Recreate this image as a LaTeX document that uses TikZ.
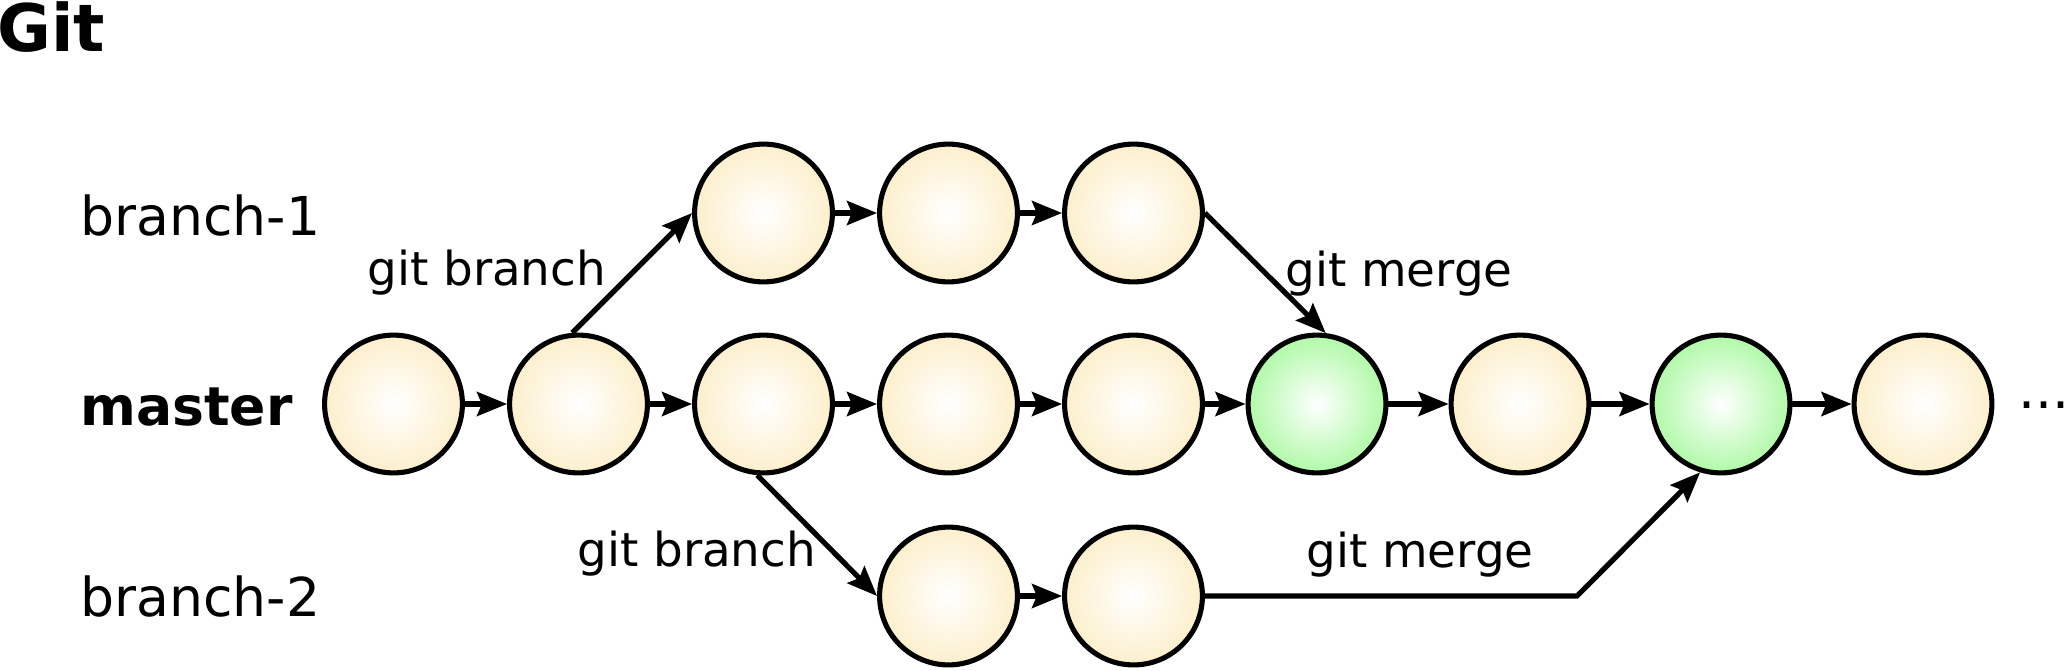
\documentclass[tikz,border=0pt]{standalone}
\usepackage{fontspec}
\setmainfont{DejaVu Sans}
\usetikzlibrary{arrows.meta}
\definecolor{ycol}{RGB}{252,236,194}
\definecolor{gcol}{RGB}{160,248,150}
\pgfdeclareradialshading{yballshade}{\pgfpoint{0bp}{0bp}}{color(0bp)=(white); color(30bp)=(ycol); color(75bp)=(ycol)}
\pgfdeclareradialshading{gballshade}{\pgfpoint{0bp}{0bp}}{color(0bp)=(white); color(30bp)=(gcol); color(75bp)=(gcol)}
\tikzset{
  commit/.style={circle, draw=black, line width=2.55pt, minimum size=68.9pt, inner sep=0pt, shade, shading=yballshade},
  merged/.style={commit, shading=gballshade},
  conn/.style={line width=2.6pt, -{Stealth[length=15pt,width=12pt,inset=2.4pt]}},
  rowlabel/.style={anchor=base west, inner sep=0pt, font=\fontsize{26.8pt}{30pt}\selectfont},
  cmdlabel/.style={anchor=base west, inner sep=0pt, font=\fontsize{23.4pt}{27pt}\selectfont},
  titlelabel/.style={anchor=base west, inner sep=0pt, font=\fontsize{32.8pt}{36pt}\selectfont\bfseries},
}
\begin{document}
\begin{tikzpicture}[x=0.5pt, y=-0.5pt]
\useasboundingbox (0,0) rectangle (2071,670);
% title and row labels
\node[titlelabel] (title) at (-3,51) {Git};
\node[rowlabel] (lb1) at (80,235) {branch-1};
\node[rowlabel, font=\fontsize{26.8pt}{30pt}\selectfont\bfseries] (lm) at (80,425) {master};
\node[rowlabel] (lb2) at (80,616) {branch-2};
% master commits
\node[commit] (m1) at (393.5,404) {};
\node[commit] (m2) at (578.5,404) {};
\node[commit] (m3) at (763.5,404) {};
\node[commit] (m4) at (948.5,404) {};
\node[commit] (m5) at (1133.5,404) {};
\node[merged] (m6) at (1317,404) {};
\node[commit] (m7) at (1520,404) {};
\node[merged] (m8) at (1721,404) {};
\node[commit] (m9) at (1923,404) {};
% branch-1 commits
\node[commit] (t1) at (763.5,213) {};
\node[commit] (t2) at (948.5,213) {};
\node[commit] (t3) at (1133.5,213) {};
% branch-2 commits
\node[commit] (b1) at (948.5,596) {};
\node[commit] (b2) at (1133.5,596) {};
% ellipsis
\node[rowlabel] (dots) at (2018,408) {...};
% command labels
\node[cmdlabel] (gb1) at (367,285) {git branch};
\node[cmdlabel] (gb2) at (577,566) {git branch};
\node[cmdlabel] (gm1) at (1285,286) {git merge};
\node[cmdlabel] (gm2) at (1306,567) {git merge};
% connectors
\draw[conn] (m1) -- (m2);
\draw[conn] (m2) -- (m3);
\draw[conn] (m3) -- (m4);
\draw[conn] (m4) -- (m5);
\draw[conn] (m5) -- (m6);
\draw[conn] (m6) -- (m7);
\draw[conn] (m7) -- (m8);
\draw[conn] (m8) -- (m9);
\draw[conn] (t1) -- (t2);
\draw[conn] (t2) -- (t3);
\draw[conn] (b1) -- (b2);
\draw[conn] (m2.95) -- (t1.west);
\draw[conn] (m3.-95) -- (b1.west);
\draw[conn] (t3.east) -- (m6.83);
\coordinate (corner) at (1577,596);
\draw[conn] (b2.east) -- (corner) -- (m8.-107);
\end{tikzpicture}
\end{document}
